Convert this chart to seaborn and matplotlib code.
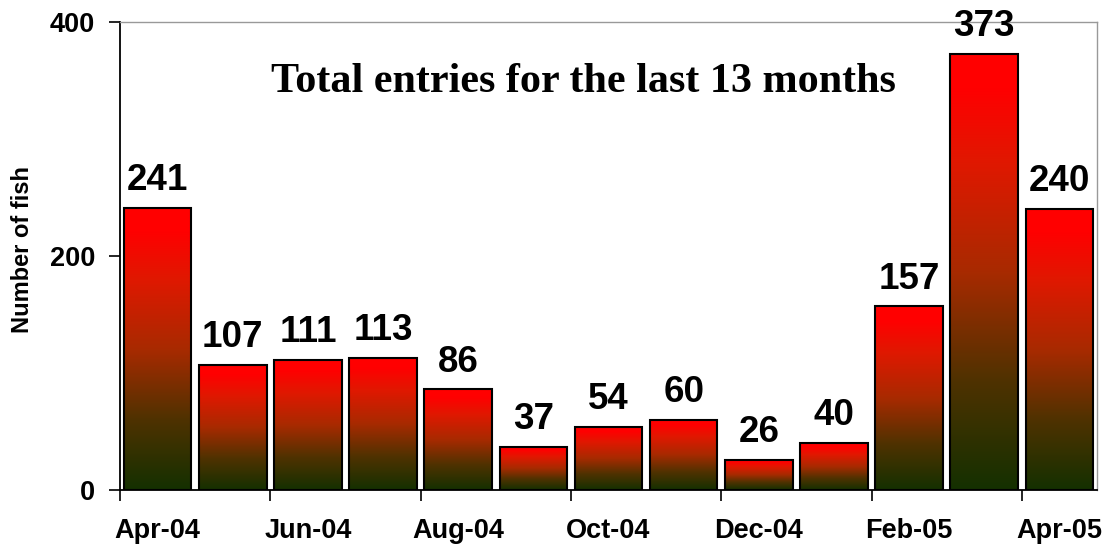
import numpy as np
import pandas as pd
import matplotlib
matplotlib.use("Agg")
import matplotlib.pyplot as plt
import seaborn as sns
from matplotlib.colors import LinearSegmentedColormap
from matplotlib.ticker import FixedLocator

months = ["Apr-04", "May-04", "Jun-04", "Jul-04", "Aug-04", "Sep-04", "Oct-04",
          "Nov-04", "Dec-04", "Jan-05", "Feb-05", "Mar-05", "Apr-05"]
counts = [241, 107, 111, 113, 86, 37, 54, 60, 26, 40, 157, 373, 240]
shown_labels = ["Apr-04", "Jun-04", "Aug-04", "Oct-04", "Dec-04", "Feb-05", "Apr-05"]
y_ticks = [0, 200, 400]
title_text = "Total entries for the last 13 months"
y_label = "Number of fish"

sns.set_theme(style="white")
plt.rcParams['font.family'] = ['Liberation Sans', 'DejaVu Sans']
plt.rcParams['font.weight'] = 'bold'
plt.rcParams['text.color'] = 'black'
plt.rcParams['axes.labelcolor'] = 'black'
plt.rcParams['xtick.color'] = 'black'
plt.rcParams['ytick.color'] = 'black'

df = pd.DataFrame({"month": months, "count": counts})

fig = plt.figure(figsize=(11.06, 5.45), dpi=100)
ax = fig.add_axes([0.1085, 0.1009, 0.8834, 0.8587])

sns.barplot(data=df, x="month", y="count", color="red", width=0.9,
            edgecolor="black", linewidth=1.5, saturation=1, ax=ax)

cmap = LinearSegmentedColormap.from_list(
    "rg", [(0.0, "#143000"), (0.25, "#4f3200"), (0.5, "#a82a00"),
           (0.75, "#e01800"), (0.92, "#ff0000"), (1.0, "#ff0000")])
grad = np.linspace(0, 1, 256).reshape(-1, 1)
for patch in ax.patches:
    x0, y0 = patch.get_x(), patch.get_y()
    w, h = patch.get_width(), patch.get_height()
    im = ax.imshow(grad, cmap=cmap, origin="lower", aspect="auto",
                   extent=[x0, x0 + w, y0, y0 + h], zorder=patch.get_zorder() - 0.1)
    im.set_clip_path(patch)
    patch.set_facecolor("none")
ax.set_xlim(-0.5, len(months) - 0.5)
ax.set_ylim(0, 400)

for i, v in enumerate(counts):
    ax.annotate(str(v), (i, v), xytext=(0, 7), textcoords="offset points",
                ha="center", va="bottom", fontsize=26.5, fontweight="bold",
                color="black", clip_on=False)

# ticks
major_pos = [months.index(m) for m in shown_labels]
ax.xaxis.set_major_locator(FixedLocator(major_pos))
ax.set_xticklabels(shown_labels)
ax.xaxis.set_minor_locator(FixedLocator([p - 0.5 for p in major_pos]))
ax.tick_params(axis="x", which="major", length=0, pad=20, labelsize=19.5,
               labelcolor="black")
ax.tick_params(axis="x", which="minor", length=8, width=1.2, color="black",
               direction="out", bottom=True)
ax.set_yticks(y_ticks)
ax.tick_params(axis="y", which="major", length=8, width=1.2, color="black",
               direction="out", left=True, pad=10, labelsize=19.5,
               labelcolor="black")
for lab in ax.get_xticklabels() + ax.get_yticklabels():
    lab.set_fontweight("bold")

ax.set_xlabel("")
ax.set_ylabel(y_label, fontsize=17, fontweight="bold", color="black")
ax.yaxis.set_label_coords(-0.088, 0.513)

for s in ["left", "bottom"]:
    ax.spines[s].set_color("black")
    ax.spines[s].set_linewidth(1.3)
for s in ["top", "right"]:
    ax.spines[s].set_color("#999999")
    ax.spines[s].set_linewidth(1.0)
ax.grid(False)

ax.text(0.474, 0.872, title_text, transform=ax.transAxes, ha="center", va="center",
        fontsize=30.3, fontweight="bold", color="black",
        family=["Liberation Serif", "DejaVu Serif"])

fig.savefig("out.png", dpi=100)
